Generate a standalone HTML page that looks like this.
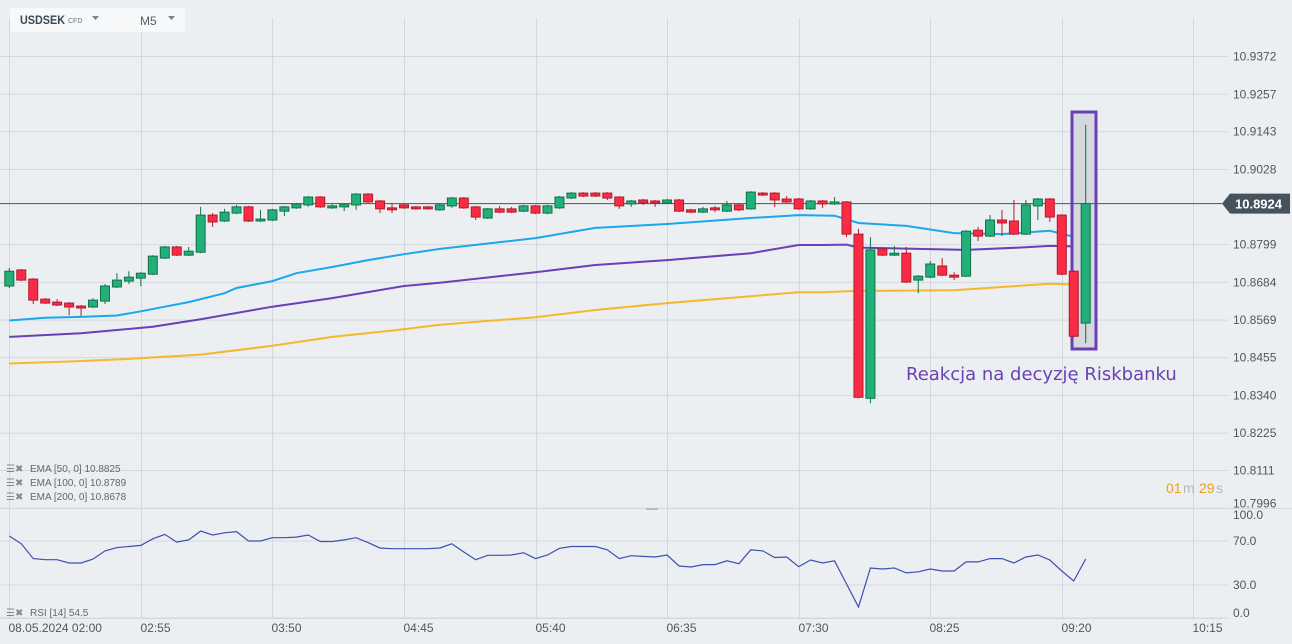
<!DOCTYPE html>
<html><head><meta charset="utf-8">
<style>
html,body{margin:0;padding:0;background:#eceff2;}
svg{display:block;font-family:"Liberation Sans",sans-serif;}
</style></head>
<body>
<svg id="chart" width="1292" height="644" viewBox="0 0 1292 644" xmlns="http://www.w3.org/2000/svg">
<defs><clipPath id="topPane"><rect x="0" y="0" width="1292" height="508"/></clipPath></defs>
<rect x="0" y="0" width="1292" height="644" fill="#eceff2"/>
<g id="grid"></g>
<g id="ema"></g>
<rect x="1072" y="112" width="24" height="237" fill="#d5d8dc" stroke="#6a40b8" stroke-width="3"/>
<g id="candles"></g>
<g id="rsi"></g>
<g id="axes"></g>
<text x="906" y="380" font-family="'DejaVu Sans',sans-serif" font-size="18" fill="#6a40b8">Reakcja na decyzję Riskbanku</text>
<g>
<rect x="10" y="8" width="175" height="24" rx="3" fill="#f7f8f9"/>
<text x="20" y="24" font-size="12" font-weight="bold" fill="#3d4852" textLength="45" lengthAdjust="spacingAndGlyphs">USDSEK</text>
<text x="68" y="23" font-size="7" fill="#6b747c">CFD</text>
<path d="M92 16 L99 16 L95.5 20 Z" fill="#7a838b"/>
<text x="140" y="25" font-size="12" fill="#555e66">M5</text>
<path d="M168 16 L175 16 L171.5 20 Z" fill="#7a838b"/>
</g>
<g font-size="10" fill="#666">
<text x="30" y="472">EMA  [50,  0] 10.8825</text>
<text x="30" y="486">EMA  [100,  0] 10.8789</text>
<text x="30" y="500">EMA  [200,  0] 10.8678</text>
<text x="30" y="616">RSI  [14]  54.5</text>
<text x="6" y="472" fill="#888">☰✖</text>
<text x="6" y="486" fill="#888">☰✖</text>
<text x="6" y="500" fill="#888">☰✖</text>
<text x="6" y="616" fill="#888">☰✖</text>
</g>
<g font-size="14">
<text x="1166" y="493" fill="#f39c1f">01</text>
<text x="1183" y="493" fill="#b5b9bd">m</text>
<text x="1199" y="493" fill="#f39c1f">29</text>
<text x="1216" y="493" fill="#b5b9bd">s</text>
</g>
<rect x="646" y="508" width="12" height="2" fill="#b8bcc0"/>
</svg>
<script>
const opens=[10.8673,10.8722,10.8694,10.8633,10.8624,10.8621,10.8612,10.8609,10.8627,10.8670,10.8688,10.8697,10.8709,10.8758,10.8792,10.8767,10.8776,10.8889,10.8871,10.8895,10.8914,10.8871,10.8874,10.8901,10.8911,10.8920,10.8944,10.8911,10.8914,10.8920,10.8953,10.8932,10.8911,10.8920,10.8914,10.8914,10.8905,10.8917,10.8941,10.8914,10.8880,10.8908,10.8908,10.8901,10.8917,10.8895,10.8911,10.8941,10.8956,10.8956,10.8956,10.8944,10.8923,10.8935,10.8932,10.8926,10.8935,10.8905,10.8898,10.8911,10.8901,10.8920,10.8908,10.8956,10.8956,10.8938,10.8938,10.8908,10.8932,10.8923,10.8929,10.8831,10.8331,10.8786,10.8767,10.8773,10.8691,10.8700,10.8734,10.8706,10.8703,10.8843,10.8825,10.8874,10.8871,10.8831,10.8917,10.8938,10.8889,10.8718,10.8560];
const highs=[10.8728,10.8725,10.8697,10.8636,10.8633,10.8624,10.8615,10.8636,10.8679,10.8712,10.8718,10.8715,10.8767,10.8795,10.8795,10.8792,10.8914,10.8895,10.8908,10.8920,10.8917,10.8905,10.8908,10.8917,10.8926,10.8947,10.8947,10.8923,10.8926,10.8956,10.8956,10.8935,10.8926,10.8923,10.8917,10.8917,10.8923,10.8944,10.8944,10.8917,10.8911,10.8917,10.8914,10.8920,10.8920,10.8920,10.8947,10.8959,10.8959,10.8959,10.8959,10.8947,10.8935,10.8938,10.8935,10.8938,10.8938,10.8908,10.8914,10.8917,10.8932,10.8923,10.8962,10.8959,10.8959,10.8947,10.8941,10.8935,10.8935,10.8944,10.8932,10.8847,10.8822,10.8789,10.8795,10.8792,10.8706,10.8749,10.8758,10.8715,10.8843,10.8853,10.8889,10.8905,10.8935,10.8935,10.8941,10.8941,10.8892,10.8721,10.9164];
const lows=[10.8667,10.8688,10.8618,10.8618,10.8612,10.8584,10.8581,10.8606,10.8618,10.8667,10.8679,10.8673,10.8706,10.8755,10.8764,10.8764,10.8773,10.8853,10.8868,10.8892,10.8868,10.8868,10.8871,10.8886,10.8908,10.8914,10.8911,10.8908,10.8901,10.8905,10.8926,10.8895,10.8895,10.8908,10.8905,10.8905,10.8902,10.8911,10.8908,10.8874,10.8877,10.8895,10.8895,10.8898,10.8892,10.8892,10.8908,10.8938,10.8944,10.8944,10.8935,10.8908,10.8914,10.8920,10.8914,10.8923,10.8898,10.8895,10.8895,10.8898,10.8898,10.8901,10.8905,10.8947,10.8914,10.8926,10.8905,10.8905,10.8911,10.8920,10.8822,10.8331,10.8316,10.8764,10.8764,10.8682,10.8651,10.8697,10.8703,10.8691,10.8700,10.8810,10.8822,10.8825,10.8828,10.8828,10.8874,10.8868,10.8706,10.8517,10.8499];
const closes=[10.8718,10.8691,10.8630,10.8621,10.8615,10.8609,10.8606,10.8630,10.8673,10.8691,10.8700,10.8712,10.8764,10.8792,10.8767,10.8779,10.8889,10.8868,10.8898,10.8914,10.8871,10.8877,10.8905,10.8914,10.8923,10.8944,10.8914,10.8917,10.8923,10.8953,10.8929,10.8908,10.8905,10.8911,10.8908,10.8908,10.8920,10.8941,10.8911,10.8883,10.8908,10.8898,10.8898,10.8917,10.8895,10.8917,10.8944,10.8956,10.8947,10.8947,10.8941,10.8917,10.8932,10.8926,10.8926,10.8935,10.8901,10.8898,10.8908,10.8905,10.8920,10.8905,10.8959,10.8950,10.8935,10.8929,10.8908,10.8932,10.8923,10.8929,10.8831,10.8334,10.8783,10.8767,10.8773,10.8685,10.8703,10.8740,10.8706,10.8700,10.8840,10.8825,10.8874,10.8865,10.8831,10.8920,10.8938,10.8883,10.8709,10.8520,10.8924];
const rsiValues=[74.5,67.5,54,53,53,50,50,53.5,61,64,65,66,72,76,69,71,79,75.5,77.5,78.5,70,70,73,73,73.5,75.5,69.5,69.5,71,73,68.5,63.5,63,63,63,63,63.6,67.5,60,53,57,57,57.3,59.4,54,57.3,63.4,65,65,65,62,54,56.6,56,55.5,57.3,47.3,46.4,48.5,48.5,52,49.4,62,61,55,55.5,46.6,52.7,50,52,31,10,45.5,44.5,45.5,41,42,44.5,42.7,42.7,51,51,54,54,50,55.5,57.3,52.7,42.7,33.6,53.6];
const ema50Idx=[0,3,6,9,11,13,15,18,19,22,24,27,30,33,36,44,49,55,62,66,69,71,75,79,83,87,89,90];
const ema50Val=[10.8568,10.8576,10.8579,10.8583,10.8596,10.8610,10.8624,10.8651,10.8667,10.8688,10.8712,10.8731,10.8752,10.8770,10.8786,10.8819,10.8850,10.8862,10.8880,10.8889,10.8887,10.8865,10.8856,10.8834,10.8831,10.8841,10.8823,10.8826];
const ema100Idx=[0,6,12,16,22,27,33,36,44,49,55,62,66,68,70,71,76,80,85,87,90];
const ema100Val=[10.8518,10.8529,10.8549,10.8572,10.8610,10.8636,10.8673,10.8683,10.8715,10.8737,10.8752,10.8773,10.8798,10.8798,10.8799,10.8790,10.8786,10.8783,10.8791,10.8795,10.8793];
const ema200Idx=[0,5,10,16,22,27,33,36,44,49,55,62,66,68,71,79,87,89,90];
const ema200Val=[10.8437,10.8443,10.8451,10.8464,10.8491,10.8518,10.8541,10.8555,10.8578,10.8600,10.8621,10.8642,10.8654,10.8654,10.8658,10.8660,10.8680,10.8678,10.8680];
const priceTicks=[10.9372,10.9257,10.9143,10.9028,10.8799,10.8684,10.8569,10.8455,10.8340,10.8225,10.8111,10.7996];
const rsiTicks=[100,70,30,0];
const rsiTickLabels=["100.0","70.0","30.0","0.0"];
const timeTickIdx=[0,11,22,33,44,55,66,77,88,99];
const timeTickLabels=["08.05.2024  02:00","02:55","03:50","04:45","05:40","06:35","07:30","08:25","09:20","10:15"];
const lastPrice=10.8924;

const NS="http://www.w3.org/2000/svg";
const xOf=i=>9.3+11.96*i;
const yP=p=>131.7-(p-10.9143)*3283;
const yR=v=>618-v*1.1;
function mk(tag,attrs,parent){const e=document.createElementNS(NS,tag);for(const k in attrs)e.setAttribute(k,attrs[k]);parent.appendChild(e);return e;}
const grid=document.getElementById('grid'),axes=document.getElementById('axes');
priceTicks.forEach(p=>{
  const y=yP(p);
  const l=mk('line',{x1:0,x2:1228,y1:y,y2:y,stroke:'#d3d8dd','stroke-width':1},grid);
  
  
  const ty=y>500?y-1:y+4;
  const t=mk('text',{x:1233,y:ty,'font-size':12,fill:'#555','clip-path':'url(#topPane)'},axes);
  t.textContent=p.toFixed(4);
  
  
});
rsiTicks.forEach((v,k)=>{
  if(v!==100){const l=mk('line',{x1:0,x2:1228,y1:yR(v),y2:yR(v),stroke:'#d3d8dd','stroke-width':1},grid);
  
  }
  const off=v===100?11:(v===0?-1:4);
  const t=mk('text',{x:1233,y:yR(v)+off,'font-size':12,fill:'#555'},axes);
  t.textContent=rsiTickLabels[k];
  
  
});
const sep=mk('line',{x1:0,x2:1292,y1:508.5,y2:508.5,stroke:'#d3d8dd','stroke-width':1},grid);


timeTickIdx.forEach((i,k)=>{
  const x=Math.round(xOf(i))+0.5;
  const l=mk('line',{x1:x,x2:x,y1:18,y2:618,stroke:'#d3d8dd','stroke-width':1},grid);
  
  
  const t=mk('text',{x:x-1,y:632,'font-size':12,fill:'#555','xml:space':'preserve'},axes);
  t.textContent=timeTickLabels[k];
  
  
});
const ema=document.getElementById('ema');
[[ema50Idx,ema50Val,'#1aa7ee','ema50-line'],[ema100Idx,ema100Val,'#6a3fb8','ema100-line'],[ema200Idx,ema200Val,'#f5b82a','ema200-line']].forEach(s=>{
  const d=s[0].map((i,k)=>(k?'L':'M')+xOf(i).toFixed(1)+' '+yP(s[1][k]).toFixed(1)).join(' ');
  const p=mk('path',{d:d,fill:'none',stroke:s[2],'stroke-width':2},ema);
  
  
});
const cg=document.getElementById('candles');
const ll=mk('line',{x1:0,x2:1222,y1:yP(lastPrice),y2:yP(lastPrice),stroke:'#4a5560','stroke-width':1},cg);


opens.forEach((o,i)=>{
  const c=closes[i],up=c>=o,x=xOf(i);
  const col=up?'#22b07a':'#fa2b45',edge=up?'#137048':'#b31a2e';
  const w=mk('line',{x1:x,x2:x,y1:yP(highs[i]),y2:yP(lows[i]),stroke:edge,'stroke-width':1},cg);
  
  
  const top=yP(Math.max(o,c)),bot=yP(Math.min(o,c));
  const b=mk('rect',{x:x-4.5,y:top,width:9,height:Math.max(1.5,bot-top),fill:col,stroke:edge,'stroke-width':1},cg);
  
  
});
const tag=mk('path',{d:`M1222 ${yP(lastPrice)} L1230 ${yP(lastPrice)-10} L1290 ${yP(lastPrice)-10} L1290 ${yP(lastPrice)+10} L1230 ${yP(lastPrice)+10} Z`,fill:'#46535e'},axes);


const tt=mk('text',{x:1235,y:yP(lastPrice)+5,'font-size':13,'font-weight':'bold',fill:'#fff'},axes);
tt.textContent=lastPrice.toFixed(4);


const rg=document.getElementById('rsi');
const rl=mk('line',{x1:0,x2:1222,y1:618.5,y2:618.5,stroke:'#d3d8dd','stroke-width':1},rg);


const rp=mk('path',{d:rsiValues.map((v,i)=>(i?'L':'M')+xOf(i).toFixed(1)+' '+yR(v).toFixed(1)).join(' '),fill:'none',stroke:'#3f4fb0','stroke-width':1.2},rg);


</script>
</body></html>
